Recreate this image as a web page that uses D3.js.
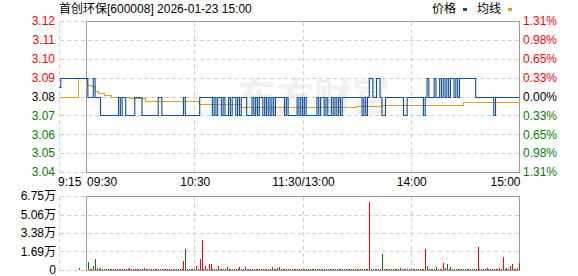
<!DOCTYPE html>
<html><head><meta charset="utf-8">
<script src="https://cdn.jsdelivr.net/npm/d3@7"></script>
<style>body{margin:0;background:#fff}svg{display:block}</style>
</head><body>
<svg id="c" width="578" height="276"></svg>
<script>
// ---------------- data ----------------
const title = "首创环保[600008] 2026-01-23 15:00";
const legendNames = ["价格", "均线"];
const watermark = "东方财富";
const prevClose = 3.08;
const priceTicks = [3.12, 3.11, 3.10, 3.09, 3.08, 3.07, 3.06, 3.05, 3.04];
const pctLabels = ["1.31%", "0.98%", "0.65%", "0.33%", "0.00%", "0.33%", "0.65%", "0.98%", "1.31%"];
const volTicks = [0, 1.69, 3.38, 5.06, 6.75];
const volTickLabels = ["0", "1.69万", "3.38万", "5.06万", "6.75万"];
// minute index (0 = 9:15, 15 = 9:30, 255 = 15:00)
const timeTickIndex = [0, 15, 75, 135, 195, 255];
const timeTickLabels = ["9:15", "09:30", "10:30", "11:30/13:00", "14:00", "15:00"];
const gridIndex = [0, 75, 135, 195];

// pre-market 9:15 - 9:29
const preMarketPrice = [3.085,3.09,3.09,3.09,3.09,3.09,3.09,3.09,3.09,3.09,3.09,3.09,3.09,3.09,3.09];
const preMarketAvg = [3.08,3.08,3.08,3.08,3.08,3.08,3.08,3.08,3.08,3.08,3.08,3.09,3.09,3.09,3.09];
// trading 9:30 - 15:00 (241 minutes)
const tradePrice = [
3.09,3.08,3.08,3.08,3.09,3.08,3.08,3.08,3.07,3.07,
3.07,3.07,3.07,3.07,3.07,3.07,3.07,3.07,3.08,3.07,
3.08,3.08,3.07,3.07,3.07,3.07,3.07,3.08,3.08,3.08,
3.08,3.07,3.07,3.07,3.07,3.07,3.07,3.07,3.07,3.07,
3.08,3.08,3.07,3.07,3.07,3.07,3.07,3.07,3.07,3.07,
3.07,3.07,3.07,3.07,3.08,3.07,3.07,3.07,3.07,3.07,
3.07,3.07,3.07,3.08,3.08,3.08,3.08,3.08,3.08,3.08,
3.07,3.08,3.07,3.08,3.08,3.07,3.08,3.07,3.07,3.08,
3.07,3.08,3.08,3.07,3.08,3.07,3.08,3.08,3.08,3.07,
3.07,3.07,3.08,3.07,3.08,3.07,3.08,3.08,3.07,3.08,
3.07,3.08,3.07,3.08,3.07,3.08,3.08,3.08,3.08,3.08,
3.07,3.08,3.07,3.07,3.07,3.07,3.07,3.08,3.07,3.08,
3.07,3.08,3.07,3.07,3.07,3.07,3.07,3.07,3.08,3.07,
3.08,3.08,3.07,3.08,3.07,3.07,3.08,3.07,3.08,3.07,
3.08,3.07,3.08,3.08,3.08,3.08,3.08,3.08,3.08,3.08,
3.08,3.08,3.08,3.07,3.08,3.07,3.08,3.09,3.09,3.08,
3.08,3.09,3.09,3.08,3.07,3.07,3.08,3.08,3.08,3.08,
3.08,3.08,3.08,3.08,3.08,3.08,3.07,3.07,3.08,3.08,
3.08,3.08,3.08,3.08,3.08,3.08,3.08,3.07,3.08,3.09,
3.08,3.08,3.08,3.09,3.08,3.08,3.09,3.08,3.09,3.08,
3.09,3.08,3.09,3.09,3.08,3.09,3.08,3.09,3.09,3.09,
3.09,3.09,3.09,3.09,3.09,3.09,3.08,3.08,3.08,3.08,
3.08,3.08,3.08,3.08,3.08,3.08,3.07,3.08,3.08,3.08,
3.08,3.08,3.08,3.08,3.08,3.08,3.08,3.08,3.08,3.08,
3.08];
const tradeAvg = [
3.09,3.0862,3.0862,3.0853,3.0853,3.083,3.083,3.082,3.082,3.082,
3.081,3.081,3.081,3.081,3.080,3.080,3.080,3.080,3.080,3.080,
3.080,3.080,3.080,3.080,3.0793,3.0793,3.0793,3.0793,3.0793,3.0793,
3.0793,3.0793,3.0793,3.0778,3.0778,3.0778,3.0778,3.0778,3.0778,3.0778,
3.0778,3.0778,3.0778,3.0778,3.0778,3.0778,3.0778,3.0778,3.0778,3.0778,
3.0778,3.0778,3.0778,3.0778,3.0778,3.0778,3.0778,3.0778,3.0778,3.0778,
3.0778,3.0778,3.0778,3.0759,3.0759,3.0759,3.0759,3.0759,3.0759,3.0759,
3.0759,3.0759,3.0759,3.0759,3.0759,3.0759,3.0759,3.0759,3.0759,3.0759,
3.0759,3.0759,3.0759,3.0759,3.0759,3.0759,3.0745,3.0745,3.0745,3.0745,
3.0745,3.0745,3.0745,3.0745,3.0745,3.0745,3.0745,3.0745,3.0745,3.0745,
3.0745,3.0745,3.0745,3.0745,3.0745,3.0745,3.0745,3.0745,3.0745,3.0745,
3.0745,3.0745,3.0745,3.0745,3.0745,3.0745,3.0745,3.0745,3.0745,3.0745,
3.0745,3.0745,3.0745,3.0745,3.0745,3.0745,3.0745,3.0745,3.0745,3.0745,
3.0745,3.0745,3.0745,3.0745,3.0745,3.0745,3.0745,3.0745,3.0745,3.0745,
3.0745,3.0745,3.0745,3.0745,3.0745,3.0745,3.0745,3.0745,3.0745,3.0745,
3.0748,3.0748,3.0748,3.0748,3.0748,3.0748,3.0748,3.0748,3.0748,3.0748,
3.0748,3.0748,3.0748,3.0748,3.0756,3.0756,3.0756,3.0756,3.0756,3.0756,
3.0756,3.0756,3.0756,3.0756,3.0756,3.0756,3.0756,3.0756,3.0756,3.0756,
3.0756,3.0756,3.0756,3.0756,3.0756,3.0756,3.0756,3.0756,3.0756,3.0756,
3.0756,3.0756,3.0756,3.0756,3.0756,3.0756,3.0756,3.0756,3.0756,3.0756,
3.0756,3.0756,3.0756,3.0756,3.0756,3.0756,3.0756,3.0756,3.0756,3.0772,
3.0772,3.0772,3.0772,3.0772,3.0772,3.0772,3.0772,3.0772,3.0772,3.0772,
3.0772,3.0772,3.0772,3.0772,3.0772,3.0772,3.0772,3.0772,3.0772,3.0772,
3.0772,3.0772,3.0772,3.0772,3.0772,3.0772,3.0772,3.0772,3.0772,3.0772,
3.0772];
// volume in 万 shares, 9:15 - 15:00 (256 points)
const volume = [
0,0,0,0,0,0,0,0,0,0,
0,0.20,0,0,0,0,0.76,0.11,0.12,0.36,
1.00,0.15,0.12,0.15,0.12,0.10,0.09,0.11,0.10,0.11,
0.09,0.11,0.10,0.12,0.09,0.11,0.10,0.09,0.11,0.16,
0.10,0.11,0.09,0.11,0.10,0.12,0.09,0.16,0.11,0.10,
0.09,0.11,0.10,0.11,0.09,0.12,0.10,0.11,0.09,0.11,
0.10,0.11,0.09,0.11,0.10,0.12,0.09,0.11,0.12,0.82,
1.92,0.12,0.11,0.10,0.12,0.11,0.40,0.12,1.00,2.74,
0.12,0.36,0.12,0.55,0.55,0.12,0.11,0.12,0.36,0.11,
0.10,0.12,0.11,0.25,0.11,0.10,0.12,0.11,0.10,0.11,
0.25,0.11,0.10,0.25,0.11,0.12,0.10,0.11,0.09,0.11,
0.10,0.12,0.09,0.11,0.10,0.11,0.09,0.12,0.25,0.11,
0.10,0.20,0.25,0.11,0.09,0.11,0.10,0.12,0.09,0.11,
0.10,0.11,0.09,0.12,0.10,0.11,0.09,0.11,0.10,0.12,
0.09,0.11,0.10,0.11,0.09,0.12,0.10,0.11,0.09,0.11,
0.10,0.12,0.09,0.11,0.10,0.11,0.09,0.12,0.10,0.11,
0.09,0.11,0.10,0.12,0.09,0.11,0.10,0.11,0.09,0.12,
0.10,0.11,6.20,0.12,0.11,0.10,0.12,0.11,0.10,1.46,
0.12,0.11,0.10,0.12,0.11,0.09,0.11,0.10,0.12,0.20,
0.10,0.11,0.09,0.12,0.10,0.11,0.09,0.11,0.10,0.12,
0.09,0.11,0.10,1.89,0.36,0.11,0.10,0.12,0.11,0.25,
0.10,0.12,0.11,0.64,0.18,0.55,0.11,0.27,0.10,0.12,
0.11,0.10,0.12,0.11,0.09,0.11,0.10,0.12,0.11,0.10,
0.11,0.12,2.07,0.12,0.11,0.10,0.12,0.18,0.11,0.10,
0.12,0.11,0.10,0.12,0.18,0.11,1.16,0.12,0.18,0.12,
0.36,0.55,0.12,0.11,0.14,0.64];
// r = price up (red), g = price down (green)
const volumeDir = (
"rrrrrrrrrr"+"rrrrrrgrgr"+"grgggrgrrg"+"rrgrrgrrrr"+"rgrrrgrrrg"+
"rrgrrrgrrg"+"rrgrrgrrrr"+"grgrrgrrrr"+"rrgrrgrrrg"+"rgrgrrgrrg"+
"rgrrgrrgrr"+"grrgrrgrgr"+"grrgrgrrgr"+"rgrgrrgrgr"+"grgrrgrgrr"+
"gggrgrrgrg"+"rgrrgrgrgr"+"grrgrgrgrg"+"rgrgrgrrgr"+"grgrgrgrrg"+
"rgrrgrgrgg"+"rgrrrgrgrg"+"rrgrrgrrgr"+"grrgrrgrrg"+"rrgrrrrgrr"+
"rrgrgr").split("");

const price = preMarketPrice.concat(tradePrice);
const avgPrice = preMarketAvg.concat(tradeAvg);

// ---------------- drawing ----------------
const svg = d3.select("#c");
const FONT = "'Liberation Sans', Arial, 'Noto Sans CJK SC', sans-serif";
const C = { grid: "#cfcfcf", border: "#9a9a9a", up: "#ff0000", down: "#008000",
            flat: "#000000", line: "#0d4e9c", avg: "#e0a21a" };

const x = d3.scaleLinear().domain([0, 255]).range([59, 519]);
const yP = d3.scaleLinear().domain([3.04, 3.12]).range([172, 21]);
const yV = d3.scaleLinear().domain([0, 6.75]).range([270, 196]);
const px = v => Math.round(v) + 0.5;

const xOpen = px(x(15)), xEnd = px(x(255)), xStart = px(x(0));

// watermark
svg.append("text").attr("x", 238).attr("y", 110)
  .attr("font-family", "'Noto Sans CJK SC', sans-serif").attr("font-weight", "bold")
  .attr("font-size", 38).attr("fill", "#f0f0f0").text(watermark);

function panel(yScale, ticks, y0, y1) {
  const g = svg.append("g").attr("shape-rendering", "crispEdges");
  g.selectAll("line.h").data(ticks).join("line")
    .attr("x1", xStart).attr("x2", xEnd)
    .attr("y1", d => px(yScale(d))).attr("y2", d => px(yScale(d)))
    .attr("stroke", C.grid).attr("stroke-dasharray", "4,3");
  g.selectAll("line.v").data(gridIndex).join("line")
    .attr("x1", d => px(x(d))).attr("x2", d => px(x(d)))
    .attr("y1", px(y0)).attr("y2", px(y1))
    .attr("stroke", C.grid).attr("stroke-dasharray", "4,3");
  g.append("rect").attr("x", xOpen).attr("y", px(y0))
    .attr("width", xEnd - xOpen).attr("height", px(y1) - px(y0))
    .attr("fill", "none").attr("stroke", C.border);
}
panel(yP, priceTicks, yP(3.12), yP(3.04));
panel(yV, volTicks, yV(6.75), yV(0));

// price axis labels
const colorOf = v => v > prevClose + 1e-9 ? C.up : (v < prevClose - 1e-9 ? C.down : C.flat);
svg.append("g").selectAll("text").data(priceTicks).join("text")
  .attr("x", 55).attr("y", d => yP(d)).attr("dy", "0.36em")
  .attr("text-anchor", "end").attr("font-family", FONT).attr("font-size", 12)
  .attr("fill", colorOf).text(d => d.toFixed(2));
svg.append("g").selectAll("text").data(pctLabels).join("text")
  .attr("x", 523).attr("y", (d, i) => yP(priceTicks[i])).attr("dy", "0.36em")
  .attr("font-family", FONT).attr("font-size", 12)
  .attr("fill", (d, i) => colorOf(priceTicks[i])).text(d => d);

// time labels
const nT = timeTickLabels.length;
svg.append("g").selectAll("text").data(timeTickLabels).join("text")
  .attr("x", (d, i) => i === 0 ? x(timeTickIndex[i]) - 1 : (i === nT - 1 ? x(timeTickIndex[i]) + 1.5 : x(timeTickIndex[i]) + 1))
  .attr("y", 186)
  .attr("text-anchor", (d, i) => i <= 1 ? "start" : (i === nT - 1 ? "end" : "middle"))
  .attr("font-family", FONT).attr("font-size", 12).attr("fill", "#000").text(d => d);

// volume labels
svg.append("g").selectAll("text").data(volTickLabels).join("text")
  .attr("x", 56).attr("y", (d, i) => yV(volTicks[i])).attr("dy", "0.36em")
  .attr("text-anchor", "end").attr("font-family", FONT).attr("font-size", 12)
  .attr("fill", "#000").text(d => d);

// average & price lines (minute steps)
const stepLine = d3.line().x((d, i) => x(i)).y(d => px(yP(d))).curve(d3.curveStepAfter);
svg.append("path").datum(avgPrice).attr("d", stepLine)
  .attr("fill", "none").attr("stroke", C.avg).attr("stroke-width", 1)
  .attr("shape-rendering", "crispEdges");
svg.append("path").datum(price).attr("d", stepLine)
  .attr("fill", "none").attr("stroke", C.line).attr("stroke-width", 1.1);

// volume bars
svg.append("g").attr("shape-rendering", "crispEdges")
  .selectAll("rect").data(volume.map((v, i) => ({ v, i })).filter(d => d.v > 0)).join("rect")
  .attr("x", d => Math.round(x(d.i)))
  .attr("width", 1)
  .attr("y", d => yV(d.v))
  .attr("height", d => yV(0) - yV(d.v))
  .attr("fill", d => volumeDir[d.i] === "r" ? C.up : C.down);

// header
svg.append("text").attr("x", 59).attr("y", 13)
  .attr("font-family", FONT).attr("font-size", 12).attr("fill", "#000").text(title);
// legend
const lg = svg.append("g").attr("font-family", FONT).attr("font-size", 12);
lg.append("text").attr("x", 432).attr("y", 13).text(legendNames[0]);
lg.append("rect").attr("x", 463).attr("y", 8).attr("width", 4).attr("height", 3).attr("fill", C.line);
lg.append("text").attr("x", 477).attr("y", 13).text(legendNames[1]);
lg.append("rect").attr("x", 508).attr("y", 8).attr("width", 4).attr("height", 3).attr("fill", C.avg);
</script>
</body></html>
